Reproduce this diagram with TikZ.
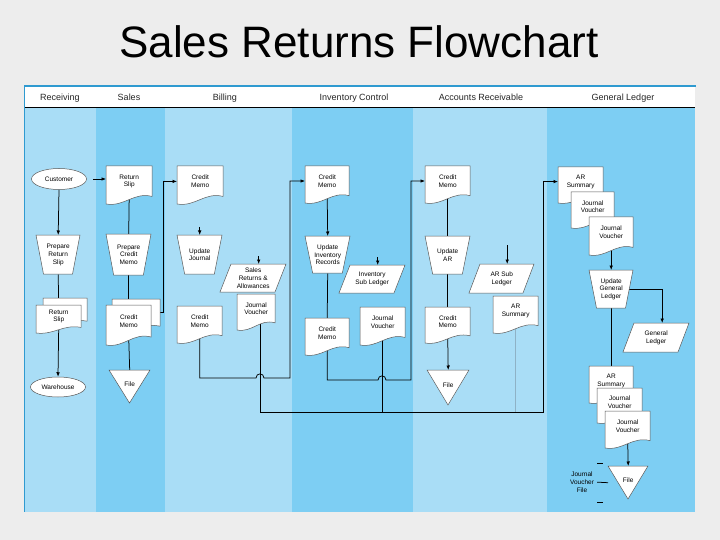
\documentclass[tikz,border=0pt]{standalone}
\usepackage{fontspec}
\setmainfont{Liberation Sans}
\usetikzlibrary{arrows.meta,shapes.geometric}
\definecolor{pagebg}{HTML}{EDEDED}
\definecolor{lightlane}{HTML}{A9DDF6}
\definecolor{darklane}{HTML}{7DCEF3}
\definecolor{topblue}{HTML}{2F9AD0}
\definecolor{faintline}{HTML}{8EB2C6}
\pgfdeclarelayer{lanes}
\pgfdeclarelayer{lines}
\pgfdeclarelayer{shapes}
\pgfsetlayers{lanes,lines,shapes,main}
\tikzset{
  txt/.style={inner sep=0pt, align=center, font=\fontsize{6.5}{7.8}\selectfont, text=black},
  hdr/.style={inner sep=0pt, anchor=base, font=\fontsize{9}{10}\selectfont, text=black!85},
  shp/.style={fill=white, draw=black!65, line width=0.5pt},
  conn/.style={draw=black, line width=0.75pt},
  arr/.style={conn, -{Latex[length=4.5pt,width=3.6pt]}},
  ell/.style={ellipse, txt, fill=white, draw=black!65, line width=0.5pt, minimum width=55pt, minimum height=21pt},
}
% document: name, left, top, right, bottom, text
\newcommand\docnode[6]{%
  \node[txt, anchor=north west, minimum width={#4-#2}, minimum height={0.8*(#5-#3)}] (#1) at (#2,#3) {#6};
  \begin{pgfonlayer}{shapes}
    \path[shp] (#2,#3) -- (#4,#3) -- (#4,{#5-0.2*(#5-#3)}) .. controls ({#2+0.6*(#4-#2)},{#5-0.32*(#5-#3)}) and ({#2+0.4*(#4-#2)},{#5+0.08*(#5-#3)}) .. (#2,#5) -- cycle;
  \end{pgfonlayer}}
% manual operation (trapezoid)
\newcommand\opnode[6]{%
  \node[txt, anchor=north west, minimum width={#4-#2}, minimum height={#5-#3}] (#1) at (#2,#3) {#6};
  \begin{pgfonlayer}{shapes}
    \path[shp] (#2,#3) -- (#4,#3) -- ({#4-0.17*(#4-#2)},#5) -- ({#2+0.17*(#4-#2)},#5) -- cycle;
  \end{pgfonlayer}}
% parallelogram
\newcommand\ionode[6]{%
  \node[txt, anchor=north west, minimum width={#4-#2}, minimum height={#5-#3}] (#1) at (#2,#3) {#6};
  \begin{pgfonlayer}{shapes}
    \path[shp] ({#2+11},#3) -- (#4,#3) -- ({#4-11},#5) -- (#2,#5) -- cycle;
  \end{pgfonlayer}}
% file triangle
\newcommand\filenode[6]{%
  \node[txt, text depth=5pt, anchor=north west, minimum width={#4-#2}, minimum height={#5-#3}] (#1) at (#2,#3) {#6};
  \begin{pgfonlayer}{shapes}
    \path[shp] (#2,#3) -- (#4,#3) -- ({(#2+#4)/2},#5) -- cycle;
  \end{pgfonlayer}}

\begin{document}
\begin{tikzpicture}[x=1pt,y=-1pt]
\useasboundingbox (0,0) rectangle (720,540);
\begin{pgfonlayer}{lanes}
  \fill[pagebg] (0,0) rectangle (720,540);
  \fill[lightlane] (24,107) rectangle (96,512);
  \fill[darklane]  (96,107) rectangle (165,512);
  \fill[lightlane] (165,107) rectangle (292,512);
  \fill[darklane]  (292,107) rectangle (413,512);
  \fill[lightlane] (413,107) rectangle (547,512);
  \fill[darklane]  (547,107) rectangle (695,512);
  \fill[white] (24,87) rectangle (695,107);
  \draw[topblue, line width=2pt] (24,86.5) -- (696,86.5);
  \draw[black, line width=0.8pt] (24,107) -- (695,107);
  \draw[topblue, line width=1pt] (24.5,86) -- (24.5,512);
\end{pgfonlayer}

\node[font=\fontsize{44}{50}\selectfont, anchor=base, inner sep=0pt] (title) at (359,58) {Sales Returns Flowchart};

\node[hdr] (hrec) at (60,100.5) {Receiving};
\node[hdr] (hsal) at (129,100.5) {Sales};
\node[hdr] (hbil) at (225,100.5) {Billing};
\node[hdr] (hinv) at (354,100.5) {Inventory Control};
\node[hdr] (har)  at (481,100.5) {Accounts Receivable};
\node[hdr] (hgl)  at (623,100.5) {General Ledger};

% Receiving
\node[ell] (cust) at (59,179) {Customer};
\opnode{prs}{36}{235}{80}{274}{Prepare\\Return\\Slip}
\docnode{rs2}{43}{298}{87}{327}{}
\docnode{rs1}{36}{305}{81}{333}{Return\\Slip}
\node[ell, minimum height=20pt] (wh) at (58,387) {Warehouse};

% Sales
\docnode{rsl}{106}{166}{152}{204}{Return\\Slip}
\opnode{pcm}{106}{234}{151}{275}{Prepare\\Credit\\Memo}
\docnode{cm2}{112}{299}{160}{333}{}
\docnode{cm1}{106}{305}{151}{345}{Credit\\Memo}
\filenode{file1}{109}{370}{150}{403}{File}

% Billing
\docnode{bcm}{177}{166}{223}{204}{Credit\\Memo}
\opnode{uj}{177}{235}{222}{274}{Update\\Journal}
\ionode{sra}{220}{264}{286}{292}{Sales\\Returns \&\\Allowances}
\docnode{bjv}{237}{294}{275}{330}{Journal\\Voucher}
\docnode{bcm2}{177}{306}{222}{343}{Credit\\Memo}

% Inventory Control
\docnode{icm}{305}{166}{349}{203}{Credit\\Memo}
\opnode{uir}{305}{236}{350}{273}{Update\\Inventory\\Records}
\ionode{isl}{339}{265}{405}{293}{Inventory\\Sub Ledger}
\docnode{ijv}{360}{307}{405}{345}{Journal\\Voucher}
\docnode{icm2}{305}{318}{349}{355}{Credit\\Memo}

% Accounts Receivable
\docnode{acm}{425}{166}{470}{203}{Credit\\Memo}
\opnode{uar}{425}{236}{470}{274}{Update\\AR}
\ionode{arsl}{469}{264}{534}{293}{AR Sub\\Ledger}
\docnode{arsum}{493}{296}{538}{333}{AR\\Summary}
\docnode{acm2}{425}{307}{470}{343}{Credit\\Memo}
\filenode{file2}{427}{370}{469}{405}{File}

% General Ledger
\docnode{gars}{558}{167}{603}{203}{AR\\Summary}
\docnode{gjv1}{571}{192}{614}{228}{Journal\\Voucher}
\docnode{gjv2}{589}{217}{633}{255}{Journal\\Voucher}
\opnode{ugl}{589}{270}{633}{308}{Update\\General\\Ledger}
\ionode{gl}{623}{323}{689}{352}{General\\Ledger}
\docnode{gars2}{589}{366}{633}{403}{AR\\Summary}
\docnode{gjv3}{597}{388}{642}{423}{Journal\\Voucher}
\docnode{gjv4}{605}{411}{650}{448}{Journal\\Voucher}
\filenode{file3}{608}{466}{648}{499}{File}
\node[txt] (jvf) at (582,482) {Journal\\Voucher\\File};

\begin{pgfonlayer}{lines}
  % Receiving
  \draw[arr, shorten <=6pt] (cust.east) -- (cust.east -| rsl.west);
  \draw[arr] (cust.south) -- (prs.north);
  \draw[conn] (prs.south) -- (rs1.north);
  \draw[arr] (rs1.south) -- (wh.north);
  % Sales
  \draw[conn] (rsl.south) -- (pcm.north);
  \draw[conn] (pcm.south) -- (cm1.north);
  \draw[conn] (cm1.south) -- (file1.north);
  \draw[arr] (cm2.east) -- ++(3,0) |- (bcm.west);
  % Billing
  \draw[arr] ([yshift=8pt]uj.north) -- (uj.north);
  \draw[arr] ([xshift=5.5pt,yshift=8pt]sra.north) -- ([xshift=5.5pt]sra.north);
  \draw[arr] (bcm2.south) -- (bcm2.south |- 0,378) -- (256,378) .. controls (256,372.5) and (264,372.5) .. (264,378) -- (290,378) |- (icm.west);
  \draw[arr] (bjv.south -| 260,0) -- (260,412) -- (543,412) |- (gars.west);
  % Inventory
  \draw[arr] (icm.south) -- (uir.north);
  \draw[arr] ([xshift=5.5pt,yshift=8pt]isl.north) -- ([xshift=5.5pt]isl.north);
  \draw[conn] (uir.south) -- (icm2.north);
  \draw[arr] (icm2.south) -- (icm2.south |- 0,380) -- (378,380) .. controls (378,374.5) and (386,374.5) .. (386,380) -- (411,380) |- (acm.west);
  \draw[conn] (ijv.south) -- (ijv.south |- 0,412);
  % AR
  \draw[conn] (acm.south) -- (uar.north);
  \draw[arr] ([xshift=5.5pt,yshift=19pt]arsl.north) -- ([xshift=5.5pt]arsl.north);
  \draw[conn] (uar.south) -- (acm2.north);
  \draw[arr] (acm2.south) -- (file2.north);
  \draw[faintline, line width=0.9pt] (arsum.south) -- (arsum.south |- 0,412);
  % General Ledger
  \draw[arr] (gjv2.south) -- (ugl.north);
  \draw[arr] (ugl.center) -| ([xshift=6pt]gl.north);
  \draw[conn] (ugl.south) -- (gars2.north);
  \draw[arr] (gjv4.south) -- (file3.north);
  \draw[conn, shorten <=3pt] (jvf.east) -- (file3.west);
  \draw[conn] (597,463) -- (603,463);
  \draw[conn] (597,502) -- (603,502);
\end{pgfonlayer}
\end{tikzpicture}
\end{document}
